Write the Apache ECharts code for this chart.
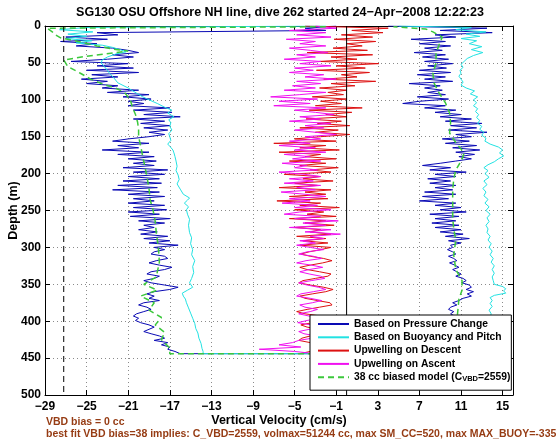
<!DOCTYPE html>
<html><head><meta charset="utf-8">
<script src="https://cdn.jsdelivr.net/npm/echarts@6/dist/echarts.min.js"></script>
<style>html,body{margin:0;padding:0;background:#fff}#c{width:560px;height:442px}</style>
</head><body><div id="c"></div>
<script>
// ---------------- DATA ----------------
const titleText = 'SG130 OSU Offshore NH line, dive 262 started 24\u2212Apr\u22122008 12:22:23';
const xTickMin = -29, xTickMax = 16, xTickStep = 4;
const yTickMin = 0, yTickMax = 500, yTickStep = 50;
const seriesNames = ['Based on Pressure Change', 'Based on Buoyancy and Pitch', 'Upwelling on Descent', 'Upwelling on Ascent', '38 cc biased model (C_VBD=2559)'];
const noteLines = ['VBD bias = 0 cc', 'best fit VBD bias=38 implies: C_VBD=2559, volmax=51244 cc, max SM_CC=520, max MAX_BUOY=-335'];
const zeroLineX = 0;
const biasLineX = -27.2;

// depth grid (m) used by the noisy series
const depth3m = [0,3,6,9,12,15,18,21,24,27,30,33,36,39,42,45,48,51,54,57,60,63,66,69,72,75,78,81,84,87,90,93,96,99,102,105,108,111,114,117,120,123,126,129,132,135,138,141,144,147,150,153,156,159,162,165,168,171,174,177,180,183,186,189,192,195,198,201,204,207,210,213,216,219,222,225,228,231,234,237,240,243,246,249,252,255,258,261,264,267,270,273,276,279,282,285,288,291,294,297,300,303,306,309,312,315,318,321,324,327,330,333,336,339,342,345,348,351,354,357,360,363,366,369,372,375,378,381,384,387,390,393,396,399,402,405,408,411,414,417,420,423,426,429,432,435,438,441,444];

// Based on Pressure Change (descent, surface -> bottom)
const pressureDescent = [-1,-4,-2,-24,-22,-27,-23,-27.5,-24,-26,
-22.5,-21,-20,-22.5,-20.5,-23,-26.5,-21,-24,-20.5,
-25,-20,-24.5,-22,-25.5,-23,-25,-22,-23.5,-20,
-23,-19,-21.5,-18.8,-21,-19.5,-21,-17,-20.5,-16.8,
-19.5,-16,-20.5,-17.5,-19.8,-17,-19.5,-17.2,-19,-17.5,
-19,-21,-22.5,-19,-22,-20,-23.5,-19,-22,-18.5,
-21,-18.3,-20.5,-18.5,-21.5,-17.2,-20.5,-17.5,-21,-18,
-21.5,-17.8,-22,-18.2,-22.5,-18,-21,-17.5,-20.5,-18.5,
-21,-17.5,-20.5,-17.3,-21,-18,-20.8,-17,-20,-17.5,
-19.5,-18.5,-20,-18.2,-19.8,-17.2,-19.5,-17,-19,-16.2,
-18.5,-17.5,-18.5,-18.8,-17.5,-17.2,-18.3,-19,-18,-16.8,
-17.5,-18.8,-19.2,-18,-18.5,-19.5,-18.8,-17.5,-16.2,-17,
-18.5,-19.2,-18.5,-19,-18,-19.5,-20,-19.2,-18.8,-19.5,
-20.2,-20.5,-20,-20.3,-19.8,-19,-18.5,-19,-19.5,-18.8,
-18,-17.5,-18.5,-17.2,-17.8,-17,-17.2,-16.5,-16];

// Based on Pressure Change (ascent, listed surface -> bottom)
const pressureAscent = [4,13.5,9,14,8.5,10.5,6.2,9.5,7,10,
7.5,9.2,6.5,9.5,7.3,9.8,7.5,10.2,7.8,9.6,
7,10,6.8,9.5,7.5,10.2,6,9,7.5,9.2,
7.8,9.5,6.8,9.8,7,5.4,9.5,7.5,10.5,8.5,
11,9,12,9.5,13,10,12.5,9.8,13.5,10.5,
12,9.2,11.8,9.5,12.5,10.2,12.8,10.5,12.3,10.8,
12,10.5,9,7.3,10,8,11.5,8.5,10.5,7.8,
10,8,10.5,8.5,10.2,7.5,10.5,7.3,9.8,7,
10.5,8.5,11,9,11.5,8,10.8,8.5,10.5,8.2,
10.8,8.5,11,9,11.2,9.5,11.8,9.8,11,10,
10.2,9.7,10.2,10.5,9.8,10.3,10.6,9.9,10.4,10.8,
10.2,10.6,11,10.5,11.2,11.5,11.1,11.8,12,11.5,
12.2,11.6,12,11.2,10.8,10.2,10.6,10,9.8,10.3,
10,10.4,10.1,10.5,10.2,10.6,10.3,10.7,10.4,10.2,
10.5,10.8,10.4,10.6,10.9,10.5,10.7,10.6,10.5];

// Based on Buoyancy and Pitch (descent)
const buoyDescentDepth = [0,2,5,8,11,14,17,20,23,26,29,32,35,38,42,46,50,55,60,64,70,77,84,91,96,100,105,110,114,118,123,127,131,136,141,146,150,155,160,163,168,172,177,183,190,196,202,208,214,221,228,233,236,240,245,249,255,262,270,280,287,295,303,310,318,326,334,342,348,354,358,362,366,370,375,382,389,396,403,410,416,423,430,437,441,444];
const buoyDescent = [-2,-25,-27.6,-24.4,-26.8,-25,-27,-24.5,-26,-23.5,
-22.5,-21.8,-21.2,-22.2,-23,-23.5,-23.6,-23.3,-23,-22.8,
-22.4,-22,-21,-20.2,-19.6,-19,-18.2,-17.5,-16.8,-17.2,
-16.6,-17.1,-16.9,-17,-16.8,-17.1,-17,-16.9,-17.2,-17,
-16.7,-16.6,-16.5,-16.4,-16.3,-16.4,-16.2,-16.1,-16.3,-16,
-15.7,-15.1,-15.3,-15.6,-15.2,-15.4,-15.3,-15.1,-15.2,-15.1,
-14.9,-15,-14.8,-14.9,-14.6,-14.8,-14.7,-14.9,-15.1,-14.8,
-15.3,-15.8,-15.7,-15.5,-15.4,-15.2,-15,-14.8,-14.6,-14.5,
-14.3,-14.2,-14,-13.9,-13.8,-13.8];

// Based on Buoyancy and Pitch (ascent, listed surface -> bottom)
const buoyAscentDepth = [0,2,5,8,11,14,17,20,24,28,32,36,40,44,48,52,56,60,64,68,72,76,80,84,88,92,96,100,104,108,112,116,120,124,128,132,136,140,144,148,152,156,160,164,168,172,176,180,184,188,192,196,200,205,210,215,220,225,230,235,240,245,250,255,260,265,270,275,280,285,290,295,300,305,310,315,320,325,330,335,340,345,350,353,356,359,362,365,368,372,376,380,385,390,400,420,440,444];
const buoyAscent = [5,12,10.5,13.4,11.5,12.8,11,12.5,
11.8,13,12,13.1,12.2,11.6,11.3,11,11.2,10.9,11,10.8,11,11.2,11,11.5,12.3,11.9,12.6,12.2,12.5,12.2,12.6,12.4,12.7,12.5,12.8,12.6,13,12.8,13.2,13,13.4,13.3,13.8,14.6,15,14.7,15.1,14.6,14.2,13.6,13.2,13.6,13.3,
13.7,13.2,13.5,13.1,13.4,13.2,13.6,13.3,13.7,13.4,13.8,13.5,13.7,13.4,13.6,13.5,13.8,13.6,13.9,13.7,14,13.8,14.1,13.9,14.2,14,14.2,14,14.1,14.2,
15,15.3,15.1,15.3,14.2,13.8,
14,13.8,14,
13.7,13.9,
13.7,13.8,13.6,13.5];

// Upwelling on Descent
const upwellDescent = [-4,4,0.5,3.5,-0.5,2.5,-1.2,2.8,0,1.5,
-1.3,2,-3.8,2.5,-1.5,1,-2.6,3.1,-1,1.8,
-2.9,2.2,-0.5,1,-2.2,2.8,-1.5,0.8,-2.6,0,
-1.8,-0.3,-3.3,0,-2.5,-0.5,-3,1.5,-3.6,0.5,
-2,0,-3.9,-0.5,-2.8,0.3,-4.5,-0.8,-3,0.3,
-2.5,-5,-1,-7,-2,-4.5,-0.7,-6.5,-2.5,-4,
-1,-5.5,-2,-4.5,-0.8,-3.5,-1.5,-6,-2.5,-4.2,
-1.3,-5,-2.8,-6.5,-1.5,-4,-2,-5.5,-1.8,-6.7,
-2.5,-4.5,-0.7,-5,-2.2,-3.8,-1,-5.5,-2,-4,
-1.2,-5,-2.5,-3.5,-1.5,-4.8,-2,-4.2,-1.8,-4.5,
-1.5,-2.5,-3.6,-4.4,-3.5,-2.2,-1.4,-2.3,-3.5,-4.5,
-3.8,-2.6,-1.5,-1.8,-3,-4.2,-4.6,-3.5,-2.2,-1.3,
-2,-3.3,-4.5,-4,-2.8,-1.6,-1.4,-2.6,-3.8,-4.8,
-4,-2.5,-1.5,-2.2,-3.3,-4.4,-3.8,-2.6,-1.8,-2.5,
-3.5,-4.3,-4.6,-3.5,-2.5,-1.5,-2.4,-3.5,-4.5];

// Upwelling on Ascent
const upwellAscent = [-3,-1,-5.5,-2,-4.8,-1.5,-5.8,-3,-4.5,-2,
-5.5,-3.5,-1.8,-4.8,-3,-6,-2.5,-4.5,-1.5,-5,
-3.2,-5.5,-2.2,-4,-1,-4.8,-2.5,-5.2,-3,-6,
-2,-4.5,-7.3,-2.8,-6.5,-3.5,-7,-2,-5,-3,
-1.2,-4.5,-2.5,-5.5,-1.5,-4,-2.2,-5,-3,-1,
-4,-2.5,-5.5,-3.5,-6.5,-3,-5,-2,-6,-3.5,
-5.2,-2.5,-6.2,-3.8,-5,-2.8,-6.5,-4,-2.5,-5.5,
-3.2,-6,-2.5,-4.8,-3,-6.3,-4,-2,-5.5,-3.5,
-6.2,-2.8,-5,-1.5,-4.5,-6,-2.5,-5,-0.8,-4.2,
-2,-5.5,-1.5,-4,-0.6,-3.5,-2.2,-4.5,-3,-4.8,
-3.5,-2.2,-3.8,-4.6,-3.2,-2.4,-3.9,-4.8,-3.4,-2.3,
-3.6,-4.5,-3.6,-2.5,-2.1,-3.4,-4.6,-3.8,-2.7,-2,
-3.2,-4.4,-4.8,-3.5,-2.4,-3.3,-4.5,-4,-2.8,-3.5,
-4.6,-3.6,-2.6,-3.8,-4.7,-3.4,-2.5,-3.6,-4.6,-4.1,
-2.9,-3.3,-4.6,-5.2,-6.5,-4.4,-8.4,-5,-3];

// 38 cc biased model
const modelDescentDepth = [1,3,8,12,16,22,27,32,34,38,41,46,55,64,72,79,84,91,100,110,120,130,140,150,163,177,190,204,220,235,250,265,280,300,320,340,350,358,366,375,385,395,405,415,425,435,441,444];
const modelDescent = [-2,-28.8,-28.3,-28,-27.5,-25.5,-24,-22.2,-21,-23.2,-25,-27.2,-26.8,-25.6,-24.6,-23.4,-22.2,-21.3,-20.8,-20.6,-20.3,-20.1,-20,-20,-19.8,-19.6,-19.4,-19.2,-19,-18.9,-18.6,-18.4,-18.3,-18.1,-18,-18.3,-19.5,-18.2,-19.8,-18.5,-19,-17.8,-18.4,-17.5,-17.8,-17.1,-17,-17];
const modelAscentDepth = [1,4,8,15,25,37,50,64,77,91,104,118,131,145,158,172,181,195,208,222,236,245,260,275,290,310,330,345,358,370,385,400,420,444];
const modelAscent = [4.5,7.6,8.3,9.2,8.9,8.6,8.6,8.3,8.4,8.9,9.5,9.9,10,9.9,10.5,11.3,11.1,10.5,10.3,10.2,10.2,10.2,10.2,10.3,10.5,10.3,10.5,11.1,11.1,10.8,10.7,10.6,10.7,10.8];

// ---------------- CHART ----------------
const FONT = '"Liberation Sans", Arial, Helvetica, sans-serif';
const pairs = (vals, depths) => vals.map((v, i) => [v, depths[i]]);
const roundTrip = (dv, dd, av, ad) => pairs(dv, dd).concat(pairs(av, ad).reverse());
const minus = v => String(v).replace('-', '\u2212');

const chart = echarts.init(document.getElementById('c'), null, {renderer: 'canvas'});

const lineSeries = (name, data, color, width, dash, z) => ({
  name, type: 'line', data, showSymbol: false, symbol: 'none',
  lineStyle: {color, width, type: dash || 'solid'}, itemStyle: {color},
  z: z || 2, animation: false, silent: true, clip: true
});

const option = {
  animation: false,
  backgroundColor: '#fff',
  title: {
    text: titleText, left: 'center', top: 6, padding: 0,
    textStyle: {fontSize: 12.5, fontWeight: 'bold', fontFamily: FONT, color: '#000'}
  },
  grid: {left: 45, right: 47, top: 26, bottom: 47, containLabel: false, outerBoundsMode: 'none'},
  xAxis: [{
    type: 'value', min: xTickMin, max: xTickMax, interval: xTickStep, position: 'bottom',
    name: 'Vertical Velocity (cm/s)', nameLocation: 'middle', nameGap: 19, nameMoveOverlap: false,
    nameTextStyle: {fontSize: 12.5, fontWeight: 'bold', fontFamily: FONT, color: '#000'},
    axisLine: {show: true, onZero: false, lineStyle: {color: '#000', width: 1}},
    axisTick: {show: true, inside: true, length: 5, lineStyle: {color: '#000'}},
    axisLabel: {fontSize: 12, fontWeight: 'bold', fontFamily: FONT, color: '#000', margin: 6,
      formatter: v => v > 15.5 ? '' : minus(v)},
    splitLine: {show: true, lineStyle: {color: '#8a8a8a', type: [1, 3], width: 1}}
  }, {
    type: 'value', min: xTickMin, max: xTickMax, interval: xTickStep, position: 'top',
    axisLine: {show: true, onZero: false, lineStyle: {color: '#000', width: 1}},
    axisTick: {show: true, inside: true, length: 5, lineStyle: {color: '#000'}},
    axisLabel: {show: false}, splitLine: {show: false}
  }],
  yAxis: [{
    type: 'value', inverse: true, min: yTickMin, max: yTickMax, interval: yTickStep, position: 'left',
    name: 'Depth (m)', nameLocation: 'middle', nameGap: 25, nameRotate: 90, nameMoveOverlap: false,
    nameTextStyle: {fontSize: 12.5, fontWeight: 'bold', fontFamily: FONT, color: '#000'},
    axisLine: {show: true, onZero: false, lineStyle: {color: '#000', width: 1}},
    axisTick: {show: true, inside: true, length: 5, lineStyle: {color: '#000'}},
    axisLabel: {fontSize: 12, fontWeight: 'bold', fontFamily: FONT, color: '#000', margin: 4},
    splitLine: {show: true, lineStyle: {color: '#8a8a8a', type: [1, 3], width: 1}}
  }, {
    type: 'value', inverse: true, min: yTickMin, max: yTickMax, interval: yTickStep, position: 'right',
    axisLine: {show: true, onZero: false, lineStyle: {color: '#000', width: 1}},
    axisTick: {show: true, inside: true, length: 5, lineStyle: {color: '#000'}},
    axisLabel: {show: false}, splitLine: {show: false}
  }],
  legend: {
    data: seriesNames, orient: 'vertical', left: 310, top: 315,
    backgroundColor: '#fff', borderColor: '#000', borderWidth: 1,
    padding: [3, 1, 7, 7], itemWidth: 31, itemHeight: 12, itemGap: 1.3,
    selectedMode: false, z: 10,
    itemStyle: {opacity: 0},
    textStyle: {fontSize: 10.3, fontWeight: 'bold', fontFamily: FONT, color: '#000', lineHeight: 12,
      rich: {sub: {fontSize: 7.5, fontWeight: 'bold', fontFamily: FONT, color: '#000', lineHeight: 7, verticalAlign: 'bottom'}}},
    formatter: n => n === seriesNames[4] ? '38 cc biased model (C{sub|VBD}=2559)' : n
  },
  graphic: [
    {type: 'text', left: 46, top: 417, silent: true,
      style: {text: noteLines[0], fill: '#963c14', fontSize: 10.5, fontWeight: 'bold', fontFamily: FONT}},
    {type: 'text', left: 46, top: 429, silent: true,
      style: {text: noteLines[1], fill: '#963c14', fontSize: 10.5, fontWeight: 'bold', fontFamily: FONT}}
  ],
  series: [
    lineSeries(seriesNames[0], roundTrip(pressureDescent, depth3m, pressureAscent, depth3m), '#0a0ab4', 1),
    lineSeries(seriesNames[1], roundTrip(buoyDescent, buoyDescentDepth, buoyAscent, buoyAscentDepth), '#22e2e2', 1),
    lineSeries(seriesNames[2], pairs(upwellDescent, depth3m), '#dd1111', 1),
    lineSeries(seriesNames[3], pairs(upwellAscent, depth3m), '#f010f0', 1),
    lineSeries(seriesNames[4], roundTrip(modelDescent, modelDescentDepth, modelAscent, modelAscentDepth), '#3cc83c', 1.5, [6, 4], 3),
    lineSeries('zero', [[zeroLineX, yTickMin], [zeroLineX, yTickMax]], '#000', 1, 'solid', 4),
    lineSeries('bias', [[biasLineX, yTickMin], [biasLineX, yTickMax]], '#000', 1, [6, 4], 4)
  ]
};
chart.setOption(option);
</script>
</body></html>
